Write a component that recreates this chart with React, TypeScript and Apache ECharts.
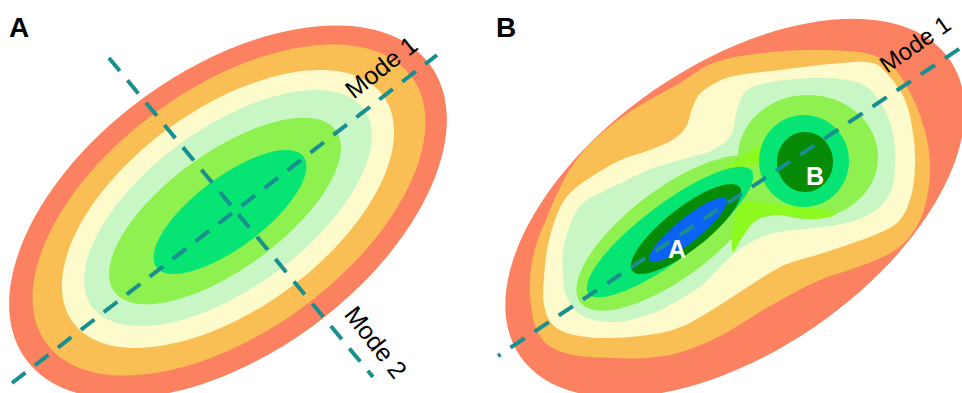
import React, { useEffect, useRef } from "react";
import * as echarts from "echarts";

const W = 962;
const H = 393;

const SALMON = "#fc8160";
const ORANGE = "#f9bf55";
const YELLOW = "#fdfbcb";
const LGREEN = "#c8f7c5";
const GREEN = "#8ef14f";
const TEAL = "#06e574";
const DKGREEN = "#078b07";
const BLUE = "#0b63f6";
const NECK = "#8cfa1e";
const DASH = "#198f8f";

// Panel A: nested contours [cx, cy, semiMajor, semiMinor, angleDeg]
const A_LAYERS = [
  [228, 212, 250, 142, 36],
  [229, 210, 226, 122, 36],
  [228, 209, 192, 100, 36],
  [228, 208, 168, 80, 36],
  [225, 211, 137, 58, 36],
  [230, 212, 92, 35, 37],
];
const A_COLORS = [SALMON, ORANGE, YELLOW, LGREEN, GREEN, TEAL];

// Panel B: outermost contour [cx, cy, semiMajor, semiMinor, angleDeg]
const B_BOUNDARY = [[735, 208, 261, 143, 34.6]];
const B_BOUNDARY_COLORS = [SALMON];

// Panel B: inner outer contours (points)
const B_ORANGE = [[531,305],[530,278],[536,245],[548,215],[555,198],[571,168],[591,143],[631,111],[680,83],[713,63],[763,53],[813,50],[845,51],[873,55],[893,67],[907,87],[918,110],[927,140],[930,167],[927,198],[919,222],[905,242],[885,256],[855,268],[820,280],[770,306],[720,336],[681,352],[648,358],[614,358],[574,355],[548,345],[536,328]];
const B_YELLOW = [[544,305],[544,278],[548,245],[558,212],[570,193],[591,177],[621,160],[650,150],[674,139],[686,127],[691,112],[698,96],[710,86],[730,77],[780,70],[830,64],[873,63],[890,77],[905,100],[913,133],[915,167],[910,200],[898,222],[877,234],[850,244],[820,254],[787,264],[763,277],[740,292],[720,305],[681,327],[648,335],[608,338],[574,335],[553,325]];
const B_LGREEN = [[563,272],[563,252],[569,228],[581,205],[600,193],[621,183],[648,170],[680,160],[713,150],[731,135],[737,110],[747,90],[773,82],[813,78],[847,80],[867,87],[883,107],[893,133],[895,167],[890,193],[876,210],[850,222],[815,228],[780,232],[755,240],[735,253],[721,266],[700,287],[670,305],[648,315],[614,322],[581,315],[566,295]];
const B_OUTER = [B_ORANGE, B_YELLOW, B_LGREEN];
const B_OUTER_COLORS = [ORANGE, YELLOW, LGREEN];

// Panel B: lobe green regions [cx, cy, semiMajor, semiMinor, angleDeg]
const B_LOBES = [
  [672, 233, 115, 44, 37],
  [808, 157, 70, 62, 0],
];
const B_LOBE_COLORS = [GREEN, GREEN];

// Panel B: neck regions between the lobes
const B_NECK_UP = [[725,168],[742,157],[762,145],[765,158],[752,165]];
const B_NECK_LOW = [[742,203],[780,205],[820,209],[836,214],[815,219],[780,215],[757,220],[743,236],[733,252],[733,228]];
const B_NECKS = [B_NECK_UP, B_NECK_LOW];
const B_NECK_COLORS = [NECK, NECK];

// Panel B: cores
const B_CORES = [
  [670, 232, 102, 28, 37],
  [804, 161, 45, 46, 0],
  [686, 229, 68, 21, 38],
  [805, 162, 28, 30, 0],
  [688, 230, 49, 12, 39],
];
const B_CORE_COLORS = [TEAL, TEAL, DKGREEN, DKGREEN, BLUE];

// Mode axes (dashed lines)
const MODE_A1 = [[12, 383], [437, 55]];
const MODE_A2 = [[109, 58], [373, 377]];
const MODE_B1 = [[498, 356], [962, 47]];

const LABEL_TEXTS = ["A", "B", "Mode 1", "Mode 2", "Mode 1", "A", "B"];

const FONT = "'Liberation Sans', Arial, Helvetica, sans-serif";

function ellipseSeries(rows: number[][], colors: string[], z: number) {
  return {
    type: "custom",
    coordinateSystem: "cartesian2d",
    z,
    silent: true,
    data: rows.map((r, i) => [r[0], r[1], r[2], r[3], r[4], i]),
    encode: { x: 0, y: 1 },
    renderItem: (params: any, api: any) => {
      const p = api.coord([api.value(0), api.value(1)]);
      const s = api.size([api.value(2), api.value(3)]);
      return {
        type: "ellipse",
        x: p[0],
        y: p[1],
        rotation: (api.value(4) * Math.PI) / 180,
        shape: { cx: 0, cy: 0, rx: s[0], ry: s[1] },
        style: { fill: colors[api.value(5)] },
      };
    },
  };
}

function polygonSeries(polys: number[][][], colors: string[], z: number) {
  return {
    type: "custom",
    coordinateSystem: "cartesian2d",
    z,
    silent: true,
    data: polys.map((p, i) => [p[0][0], p[0][1], i]),
    encode: { x: 0, y: 1 },
    renderItem: (params: any, api: any) => {
      const idx = api.value(2);
      const pts = polys[idx].map((pt) => api.coord(pt));
      return {
        type: "polygon",
        shape: { points: pts, smooth: 0.35 },
        style: { fill: colors[idx] },
      };
    },
  };
}

function dashSeries(pts: number[][], offset: number) {
  return {
    type: "line",
    data: pts,
    z: 20,
    silent: true,
    symbol: "none",
    showSymbol: false,
    lineStyle: { color: DASH, width: 4, type: [17, 12], dashOffset: offset, cap: "butt" },
  };
}

export default function App() {
  const ref = useRef<HTMLDivElement>(null);
  useEffect(() => {
    if (!ref.current) return;
    const chart = echarts.init(ref.current, undefined, { renderer: "svg" });
    const labelPos = [
      { x: 19, y: 27, rot: 0, size: 28, weight: "bold", fill: "#000" },
      { x: 506, y: 27, rot: 0, size: 28, weight: "bold", fill: "#000" },
      { x: 381, y: 67, rot: 38, size: 25, weight: "normal", fill: "#000" },
      { x: 376, y: 342, rot: -52, size: 25, weight: "normal", fill: "#000" },
      { x: 915, y: 44, rot: 35, size: 24, weight: "normal", fill: "#000" },
      { x: 677, y: 249, rot: 0, size: 25, weight: "bold", fill: "#fff" },
      { x: 815, y: 176, rot: 0, size: 25, weight: "bold", fill: "#fff" },
    ];
    chart.setOption({
      animation: false,
      grid: { left: 0, right: 0, top: 0, bottom: 0 },
      xAxis: { type: "value", min: 0, max: W, show: false },
      yAxis: { type: "value", min: 0, max: H, inverse: true, show: false },
      series: [
        ellipseSeries(A_LAYERS, A_COLORS, 1),
        ellipseSeries(B_BOUNDARY, B_BOUNDARY_COLORS, 2),
        polygonSeries(B_OUTER, B_OUTER_COLORS, 3),
        ellipseSeries(B_LOBES, B_LOBE_COLORS, 4),
        polygonSeries(B_NECKS, B_NECK_COLORS, 5),
        ellipseSeries(B_CORES, B_CORE_COLORS, 6),
        dashSeries(MODE_A1, 0),
        dashSeries(MODE_A2, 0),
        dashSeries(MODE_B1, 14),
      ],
      graphic: LABEL_TEXTS.map((t, i) => ({
        type: "text",
        x: labelPos[i].x,
        y: labelPos[i].y,
        rotation: (labelPos[i].rot * Math.PI) / 180,
        z: 100,
        silent: true,
        style: {
          text: t,
          fontSize: labelPos[i].size,
          fontWeight: labelPos[i].weight,
          fontFamily: FONT,
          fill: labelPos[i].fill,
          align: "center",
          verticalAlign: "middle",
        },
      })),
    });
    return () => chart.dispose();
  }, []);
  return (
    <div
      ref={ref}
      style={{ position: "fixed", left: 0, top: 0, width: W, height: H, background: "#fff" }}
    />
  );
}
